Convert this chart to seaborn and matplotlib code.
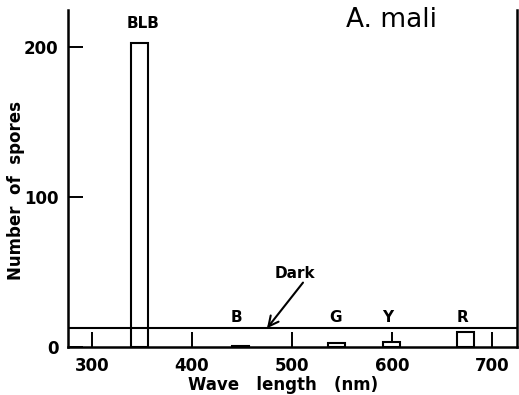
import matplotlib
matplotlib.use("Agg")
import matplotlib.pyplot as plt
import seaborn as sns
import numpy as np

# Data
labels = ["BLB", "B", "G", "Y", "R"]
wavelength = [347, 448, 544, 599, 673]   # bar centres (nm)
spores = [203, 1, 2.5, 3.5, 10]          # number of spores
dark_level = 12.5
bar_width_nm = 17
label_pos_x = [351, 444, 543, 596, 670]
label_pos_y = [216, 20, 20, 20, 20]
xticks = [300, 400, 500, 600, 700]
yticks = [0, 100, 200]

sns.set_style("white")
plt.rcParams['font.family'] = ['DejaVu Sans']
plt.rcParams['text.color'] = 'black'

fig = plt.figure(figsize=(5.19, 3.95), dpi=100)
ax = fig.add_axes([68/519, 48/395, (517-68)/519, (347-10)/395])

min_gap = np.min(np.diff(sorted(wavelength)))
sns.barplot(x=wavelength, y=spores, native_scale=True, width=bar_width_nm/min_gap,
            color="white", saturation=1, edgecolor="black", linewidth=1.5,
            errorbar=None, ax=ax, zorder=2)

ax.axhline(dark_level, color="black", lw=1.5, zorder=3)

ax.set_xlim(276, 725)
ax.set_ylim(0, 225)
ax.set_xticks(xticks)
ax.set_yticks(yticks)
ax.tick_params(axis="both", direction="in", length=11, width=1.4, pad=7,
               labelsize=12, color="black", labelcolor="black",
               bottom=True, left=True)
for t in ax.get_xticklabels() + ax.get_yticklabels():
    t.set_fontweight("bold")

for s in ["left", "right", "bottom"]:
    ax.spines[s].set_visible(True)
    ax.spines[s].set_color("black")
    ax.spines[s].set_linewidth(1.8)
ax.spines["top"].set_visible(False)

for lab, lx, ly in zip(labels, label_pos_x, label_pos_y):
    ax.text(lx, ly, lab, ha="center", va="center", fontsize=11, fontweight="bold",
            color="black")

ax.text(600, 218, "A. mali", ha="center", va="center", fontsize=19, color="black")

ax.text(503, 49, "Dark", ha="center", va="center", fontsize=11, fontweight="bold",
        color="black")
ax.annotate("", xy=(475, dark_level), xytext=(511, 43),
            arrowprops=dict(arrowstyle="->", lw=1.5, color="black",
                            shrinkA=0, shrinkB=0, mutation_scale=18))

ax.set_xlabel("Wave   length   (nm)", fontsize=12, fontweight="bold", color="black")
ax.xaxis.set_label_coords((283-68)/449, (347-376)/337)
ax.set_ylabel("Number  of  spores", fontsize=12, fontweight="bold", color="black")
ax.yaxis.set_label_coords((25-68)/449, (347-190)/337)

fig.savefig("out.png", dpi=100)
